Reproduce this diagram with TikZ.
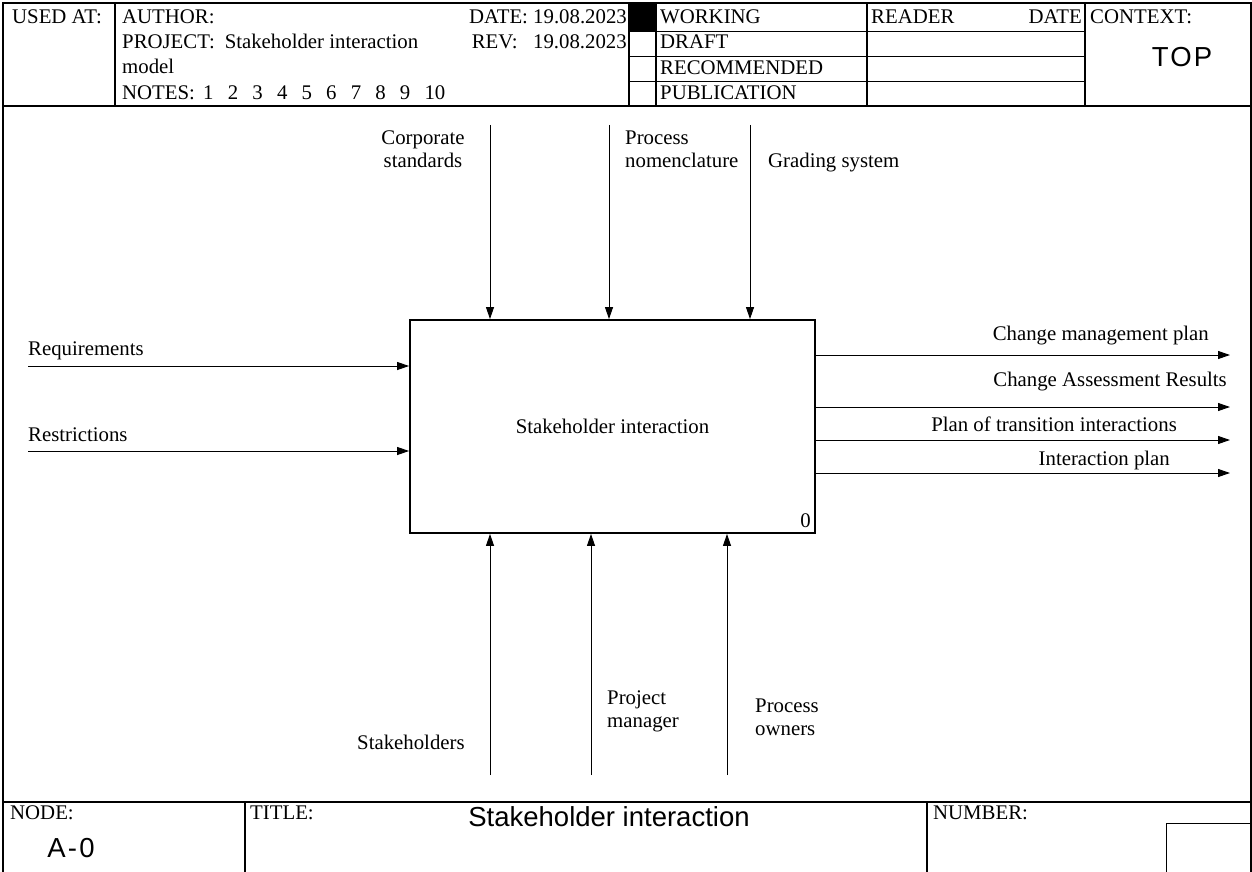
\documentclass[tikz,border=0pt]{standalone}
\usepackage{fontspec}
\setmainfont{Liberation Serif}
\newfontfamily\arialfont{Liberation Sans}
\newfontfamily\arialwide[LetterSpace=8]{Liberation Sans}
\usetikzlibrary{arrows.meta}
\begin{document}
\begin{tikzpicture}[x=1pt,y=-1pt,
  txt/.style={font=\fontsize{20.8}{23}\selectfont, inner sep=0pt},
  big/.style={font=\arialfont\fontsize{27.5}{30}\selectfont, inner sep=0pt},
  bigwide/.style={font=\arialwide\fontsize{27.5}{30}\selectfont, inner sep=0pt},
  frameline/.style={line width=1.3pt},
  thinline/.style={line width=0.9pt},
  flow/.style={line width=1pt, -{Triangle[length=12pt,width=8pt]}},
  actbox/.style={draw, line width=1.8pt, minimum width=405pt, minimum height=213pt, inner sep=0pt, font=\fontsize{20.8}{23}\selectfont},
]
\useasboundingbox (0,0) rectangle (1252,872);
% outer frame
\draw[frameline] (3,880) -- (3,3) -- (1251,3) -- (1251,880);
% header
\draw[frameline] (3,106) -- (1251,106);
\draw[frameline] (115,3) -- (115,106);
\draw[frameline] (629,3) -- (629,106);
\draw[frameline] (656,3) -- (656,106);
\draw[frameline] (867,3) -- (867,106);
\draw[frameline] (1085,3) -- (1085,106);
\draw[thinline] (629,31) -- (1085,31);
\draw[thinline] (629,56) -- (1085,56);
\draw[thinline] (629,81) -- (1085,81);
\fill (629,3) rectangle (656,31);
\node[txt, anchor=base west] (usedat) at (12,24) {USED AT:};
\node[txt, anchor=base west] (author) at (122,24) {AUTHOR:};
\node[txt, anchor=base east] (date) at (627,24) {DATE: 19.08.2023};
\node[txt, anchor=base west] (project) at (122,49) {PROJECT:\hspace{10pt}Stakeholder interaction};
\node[txt, anchor=base east] (rev) at (627,49) {REV:\ \ \ 19.08.2023};
\node[txt, anchor=base west] (model) at (122,74) {model};
\node[txt, anchor=base west] (notes) at (122,100) {NOTES:};
\node[txt, anchor=base west] (notenums) at (203,100) {1\hspace{14.2pt}2\hspace{14.2pt}3\hspace{14.2pt}4\hspace{14.2pt}5\hspace{14.2pt}6\hspace{14.2pt}7\hspace{14.2pt}8\hspace{14.2pt}9\hspace{14.2pt}10};
\node[txt, anchor=base west] (working) at (660,24) {WORKING};
\node[txt, anchor=base west] (draft) at (660,49) {DRAFT};
\node[txt, anchor=base west] (recommended) at (660,75) {RECOMMENDED};
\node[txt, anchor=base west] (publication) at (660,100) {PUBLICATION};
\node[txt, anchor=base west] (reader) at (871,24) {READER};
\node[txt, anchor=base east] (rdate) at (1082,24) {DATE};
\node[txt, anchor=base west] (context) at (1090,24) {CONTEXT:};
\node[bigwide, anchor=center] (top) at (1182,57) {TOP};
% footer
\draw[frameline] (3,802) -- (1251,802);
\draw[frameline] (245,802) -- (245,880);
\draw[frameline] (927,802) -- (927,880);
\draw[thinline] (1166,880) -- (1166,823) -- (1251,823);
\node[txt, anchor=base west] (nodelbl) at (10,819) {NODE:};
\node[bigwide, anchor=center] (nodeval) at (71,848) {A-0};
\node[txt, anchor=base west] (titlelbl) at (250,819) {TITLE:};
\node[big, anchor=center] (titleval) at (609,817) {Stakeholder interaction};
\node[txt, anchor=base west] (numberlbl) at (933,819) {NUMBER:};
% activity box
\node[actbox] (A0) at (612.5,426.5) {Stakeholder interaction};
\node[txt, anchor=base east] (boxnum) at (811,527) {0};
% inputs
\coordinate (i1) at (28,366);
\coordinate (i2) at (28,451);
\draw[flow] (i1) -- (i1 -| A0.west);
\draw[flow] (i2) -- (i2 -| A0.west);
\node[txt, anchor=base west] (li1) at (28,355) {Requirements};
\node[txt, anchor=base west] (li2) at (28,441) {Restrictions};
% controls
\coordinate (c1) at (490,125);
\coordinate (c2) at (609,125);
\coordinate (c3) at (750,125);
\draw[flow] (c1) -- (c1 |- A0.north);
\draw[flow] (c2) -- (c2 |- A0.north);
\draw[flow] (c3) -- (c3 |- A0.north);
\node[txt, anchor=base, align=center] (lc1) at (423,167) {Corporate\\standards};
\node[txt, anchor=base west, align=left] (lc2) at (625,167) {Process\\nomenclature};
\node[txt, anchor=base west] (lc3) at (768,167) {Grading system};
% mechanisms
\coordinate (m1) at (490,775);
\coordinate (m2) at (591,775);
\coordinate (m3) at (727,775);
\draw[flow] (m1) -- (m1 |- A0.south);
\draw[flow] (m2) -- (m2 |- A0.south);
\draw[flow] (m3) -- (m3 |- A0.south);
\node[txt, anchor=base west] (lm1) at (357,749) {Stakeholders};
\node[txt, anchor=base west, align=left] (lm2) at (607,727) {Project\\manager};
\node[txt, anchor=base west, align=left] (lm3) at (755,735) {Process\\owners};
% outputs
\coordinate (o1) at (1230,355);
\coordinate (o2) at (1230,407);
\coordinate (o3) at (1230,440);
\coordinate (o4) at (1230,473);
\draw[flow] (o1 -| A0.east) -- (o1);
\draw[flow] (o2 -| A0.east) -- (o2);
\draw[flow] (o3 -| A0.east) -- (o3);
\draw[flow] (o4 -| A0.east) -- (o4);
\node[txt, anchor=base east] (lo1) at (1209,340) {Change management plan};
\node[txt, anchor=base east] (lo2) at (1227,386) {Change Assessment Results};
\node[txt, anchor=base east] (lo3) at (1177,431) {Plan of transition interactions};
\node[txt, anchor=base east] (lo4) at (1170,465) {Interaction plan};
\end{tikzpicture}
\end{document}
